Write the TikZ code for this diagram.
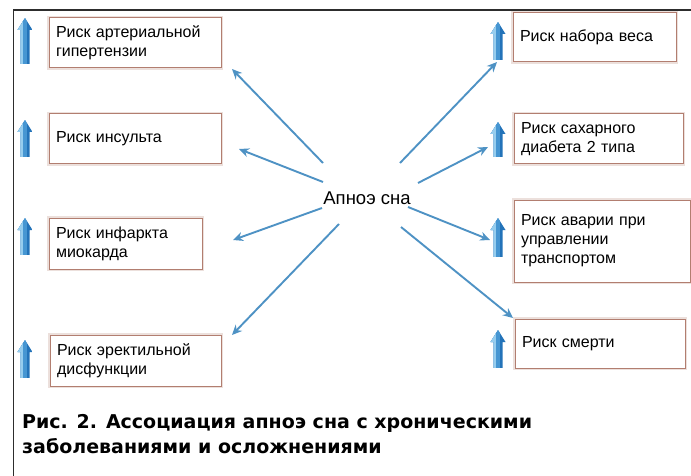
\documentclass[tikz,border=0pt]{standalone}
\usepackage{fontspec}
\setmainfont{Liberation Sans}
\newfontfamily\capfont{DejaVu Sans}
\usetikzlibrary{arrows.meta}
\definecolor{linkblue}{RGB}{78,146,196}
\definecolor{boxbrown}{RGB}{178,126,112}
\definecolor{boxglow}{RGB}{236,224,220}
\definecolor{arrlight}{RGB}{150,205,238}
\definecolor{arrmid}{RGB}{70,150,210}
\definecolor{arrdark}{RGB}{35,115,185}
\definecolor{framecol}{RGB}{45,45,45}
\newcommand\arrowpath[3]{(#1,#2) -- (#1+7.5,#2+12) -- (#1+4.5,#2+12) -- (#1+4.5,#3)
    -- (#1-4.5,#3) -- (#1-4.5,#2+12) -- (#1-7.5,#2+12) -- cycle}
\newcommand\riskarrow[3]{%
  \begin{scope}
  \clip \arrowpath{#1}{#2}{#3};
  \fill[arrdark] (#1-8,#2) rectangle (#1+8,#3);
  \fill[arrmid] (#1-8,#2) rectangle (#1+2,#3);
  \fill[arrlight] (#1-8,#2) rectangle (#1-2,#3);
  \end{scope}}
\begin{document}
\begin{tikzpicture}[x=1pt,y=-1pt,
  riskbox/.style={draw=boxbrown, line width=1pt, fill=white,
    preaction={draw=boxglow, line width=3.5pt},
    inner xsep=7pt, inner ysep=0pt, align=left,
    font=\fontsize{16}{19}\selectfont},
  link/.style={draw=linkblue, line width=1.9pt,
    -{Stealth[length=10pt,width=9pt]}},
  centre/.style={font=\fontsize{18.5}{20}\selectfont},
  caption/.style={anchor=base west, inner sep=0pt,
    font=\capfont\bfseries\fontsize{19}{25}\selectfont},
  framestyle/.style={draw=framecol, line width=1.3pt, rectangle,
    inner sep=0pt, anchor=north west, minimum width=690pt, minimum height=480pt}]
\useasboundingbox (0,0) rectangle (691,476);
% frame (its right and bottom sides fall outside the page)
\node[framestyle] (frame) at (12.5,9.5) {};
% boxes
\node[riskbox, text width=158pt, minimum height=50pt] (b1) at (135,43) {Риск артериальной\\гипертензии};
\node[riskbox, text width=158pt, minimum height=50pt] (b2) at (135,139) {Риск инсульта};
\node[riskbox, text width=139pt, minimum height=51pt] (b3) at (125.5,243.5) {Риск инфаркта\\миокарда};
\node[riskbox, text width=157pt, minimum height=51pt] (b4) at (135.5,360.5) {Риск эректильной\\дисфункции};
\node[riskbox, text width=149pt, minimum height=49pt] (b5) at (594.5,37.5) {Риск набора веса};
\node[riskbox, text width=155pt, minimum height=50pt] (b6) at (598.5,139) {Риск сахарного\\диабета 2 типа};
\node[riskbox, text width=162pt, minimum height=82pt] (b7) at (602,241) {Риск аварии при\\управлении\\транспортом};
\node[riskbox, text width=156pt, minimum height=49pt] (b8) at (600,343.5) {Риск смерти};
% up arrows
\riskarrow{25}{18}{64}
\riskarrow{25}{120}{157}
\riskarrow{25}{218}{255}
\riskarrow{25}{340}{378}
\riskarrow{498}{22}{60}
\riskarrow{498}{122}{157}
\riskarrow{498}{218}{257}
\riskarrow{498}{330}{368}
% centre
\node[centre] (apnea) at (367,198) {Апноэ сна};
% connector ends
\coordinate (s1) at (323,163); \coordinate (e1) at (232,69);
\coordinate (s2) at (323,182); \coordinate (e2) at (239,149);
\coordinate (s3) at (322,208); \coordinate (e3) at (233,240);
\coordinate (s4) at (339,224); \coordinate (e4) at (232,335);
\coordinate (s5) at (400,163); \coordinate (e5) at (497,62);
\coordinate (s6) at (418,183); \coordinate (e6) at (488,147);
\coordinate (s7) at (408,207); \coordinate (e7) at (490,240);
\coordinate (s8) at (401,227); \coordinate (e8) at (513,318);
\foreach \i in {1,...,8} {\draw[link] (s\i) -- (e\i);}
% caption
\node[caption] (cap1) at (22,428) {Рис. 2. Ассоциация апноэ сна с хроническими};
\node[caption] (cap2) at (22,453) {заболеваниями и осложнениями};
\end{tikzpicture}
\end{document}
